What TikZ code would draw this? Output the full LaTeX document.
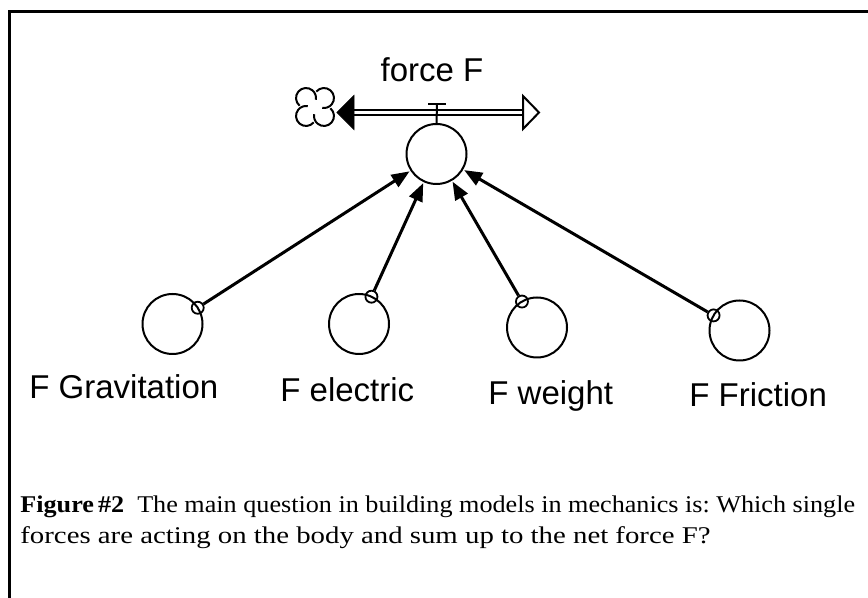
\documentclass[tikz,border=0pt]{standalone}
\usepackage{fontspec}
\setmainfont{Liberation Serif}
\setsansfont{Liberation Sans}
\newfontfamily\capfontA[FakeStretch=1.09]{Liberation Serif}
\newfontfamily\capfontB[FakeStretch=1.2]{Liberation Serif}
\usetikzlibrary{arrows.meta,calc}
\tikzset{>=stealth}
\tikzset{
  aux/.style={circle, draw, line width=1pt, minimum size=30pt, inner sep=0pt},
  dot/.style={circle, draw, line width=0.9pt, minimum size=6pt, inner sep=0pt},
  link/.style={-{Triangle[length=9pt,width=7pt]}, line width=1.5pt, shorten >=0.5pt},
  lbl/.style={font=\sffamily\fontsize{16.5}{18}\selectfont, inner sep=0pt}
}

\begin{document}
\begin{tikzpicture}[x=0.5pt, y=-0.5pt]
	\useasboundingbox (0,0) rectangle (868,598);
	\draw [line width=1.5pt] (9,600) -- (9,11.5) -- (870,11.5);
	% net force and its flow
	\node [aux] (forceF) at (436.5,154) {};
	\node [lbl, anchor=base] (forceLbl) at (432,82) {force F};
	\coordinate (cloud) at (315,107);
	\coordinate (pipeL) at (354,112.5);
	\coordinate (pipeR) at (523,112.5);
	\coordinate (valve) at (437,104);
	\foreach \a in {225,315,45,135}
	\draw [line width=1pt] ($(cloud)+(\a:12.7)$) ++(\a-95:10) arc [start angle=\a-95, end angle=\a+145, radius=10];
	\draw [line width=0.75pt, double, double distance=1.75pt] (pipeL) -- (pipeR);
	\draw [fill] (pipeL) ++(0,-17) -- ++(-17,17) -- ++(17,17) -- cycle;
	\draw [line width=1pt, fill=white, line join=miter] (pipeR) ++(0,-16.5) -- ++(16,16.5) -- ++(-16,16.5) -- cycle;
	\draw [line width=1pt] (valve) ++(-9,0) -- ++(18,0);
	\draw [line width=1pt] (valve) -- (forceF.north);
	% single forces
	\node [aux] (grav) at (172.5,324) {};
	\node [aux] (elec) at (359,324) {};
	\node [aux] (weight) at (537,327.5) {};
	\node [aux] (fric) at (739.5,330.5) {};
	\foreach \s in {grav,elec,weight,fric} {
	\node [dot] (\s C) at ($(\s)!15pt!(forceF)$) {};
	\draw [link] (\s C) -- (forceF);
	}
	\node [lbl, anchor=base west] at (29,399) {F Gravitation};
	\node [lbl, anchor=base west] at (280,402) {F electric};
	\node [lbl, anchor=base west] at (488,405) {F weight};
	\node [lbl, anchor=base west] at (689,407) {F Friction};
	% caption
	\node [anchor=base west, align=left, inner sep=0pt, font=\fontsize{12}{15.5}\selectfont\frenchspacing] (caption) at (20,544)
	{{\capfontA\textbf{Figure\,\#2}\ \ The main question in building models in mechanics is: Which single}\\
	{\capfontB forces are acting on the body and sum up to the net force F?}};
\end{tikzpicture}
\end{document}
